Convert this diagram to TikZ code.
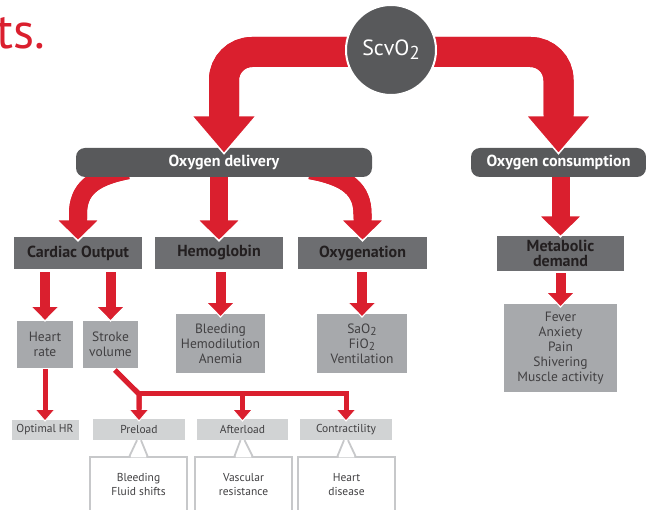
\documentclass[tikz,border=0pt]{standalone}
\usepackage{fontspec}
\setmainfont{PT Sans}
\usepackage{graphicx}
\usetikzlibrary{arrows.meta,calc}
\definecolor{cRed}{HTML}{DA1F2E}
\definecolor{cDark}{HTML}{58595B}
\definecolor{cMid}{HTML}{6D6E71}
\definecolor{cLight}{HTML}{A7A9AC}
\definecolor{cPale}{HTML}{D1D3D4}
\definecolor{cEdge}{HTML}{C7C8CA}
\definecolor{cInk}{HTML}{231F20}
\definecolor{cInkB}{HTML}{414042}
\newcommand{\lowsub}[1]{\raisebox{-0.35ex}{\scalebox{0.85}{#1}}}
\pgfdeclarelayer{l1}
\pgfdeclarelayer{l2}
\pgfdeclarelayer{l3}
\pgfdeclarelayer{l4}
\pgfsetlayers{l1,l2,l3,l4,main}
\tikzset{
  darkbar/.style={fill=cDark, rounded corners=9pt, text=white, font=\fontsize{16}{19}\selectfont\bfseries, inner sep=0pt, minimum height=29pt},
  midbox/.style={fill=cMid, text=cInk, font=\fontsize{16}{14.5}\selectfont\bfseries, inner sep=0pt, align=center, minimum height=32pt},
  lightbox/.style={fill=cLight, text=cInkB, font=\fontsize{13.5}{15}\selectfont, inner sep=0pt, align=center},
  palebox/.style={fill=cPale, text=cInkB, font=\fontsize{11.5}{13}\selectfont, inner sep=0pt, minimum height=21pt},
  callout/.style={draw=cEdge, line width=1.8pt, fill=white, text=cInkB, font=\fontsize{11.5}{13.5}\selectfont, align=center, inner sep=0pt, minimum height=55pt},
  bigarr/.style={draw=cRed, line width=30pt, -{Triangle[width=68pt,length=40pt,fill=cRed,color=white,line width=1.5pt]}, postaction={draw=cRed, line width=30pt, -, shorten >=38pt}},
  midarr/.style={draw=cRed, line width=18pt, -{Triangle[width=47pt,length=23pt,fill=cRed,color=white,line width=1.5pt]}, postaction={draw=cRed, line width=18pt, -, shorten >=21pt}},
  smallarr/.style={draw=cRed, line width=10pt, -{Triangle[width=31pt,length=16pt,fill=cRed,color=white,line width=1.2pt]}, postaction={draw=cRed, line width=10pt, -, shorten >=14pt}},
  thinarr/.style={draw=cRed, line width=5pt, -{Triangle[width=22pt,length=13pt,fill=cRed,color=white,line width=1pt]}, postaction={draw=cRed, line width=5pt, -, shorten >=11pt}},
  pointer/.style={draw=cEdge, line width=1.8pt}
}
\begin{document}
\begin{tikzpicture}[x=1pt,y=-1pt]
\useasboundingbox (0,0) rectangle (646,510);
% title fragment and top circle (front layer)
\node[anchor=base west, text=cRed, font=\fontsize{50}{50}\selectfont, inner sep=0pt] (title) at (-4,49) {ts.};
\node[circle, fill=cDark, draw=white, line width=2pt, minimum size=90pt, inner sep=0pt, text=white, font=\fontsize{22}{22}\selectfont] (scv) at (391,50) {ScvO\lowsub{2}};
% dark bars
\begin{pgfonlayer}{l3}
\node[darkbar, minimum width=296pt] (odel) at (224,162.5) {Oxygen delivery};
\node[darkbar, minimum width=175pt] (ocons) at (558.5,162.5) {Oxygen consumption};
\end{pgfonlayer}
\begin{pgfonlayer}{l1}
% second row
\node[midbox, minimum width=128pt] (co) at (78,253) {Cardiac Output};
\node[midbox, minimum width=128pt] (hb) at (219,253) {Hemoglobin};
\node[midbox, minimum width=129pt] (oxy) at (362.5,253) {Oxygenation};
\node[midbox, minimum width=127pt, minimum height=35pt] (met) at (560.5,253.5) {Metabolic\\demand};
% third row
\node[lightbox, minimum width=56pt, minimum height=47pt] (hr) at (45,344.5) {Heart\\rate};
\node[lightbox, minimum width=55pt, minimum height=47pt] (sv) at (110.5,344.5) {Stroke\\volume};
\node[lightbox, minimum width=89pt, minimum height=59pt] (bl) at (220.5,343.5) {Bleeding\\Hemodilution\\Anemia};
\node[lightbox, minimum width=90pt, minimum height=59pt] (sao) at (362,343.5) {SaO\lowsub{2}\\FiO\lowsub{2}\\Ventilation};
\node[lightbox, minimum width=113pt, minimum height=88pt] (fev) at (560.5,348) {Fever\\Anxiety\\Pain\\Shivering\\Muscle activity};
% bottom row
\node[palebox, minimum width=67pt, minimum height=20pt] (ohr) at (45,430) {Optimal HR};
\node[palebox, minimum width=92pt] (pre) at (139,429.5) {Preload};
\node[palebox, minimum width=91pt] (aft) at (242.5,429.5) {Afterload};
\node[palebox, minimum width=92pt] (con) at (346,429.5) {Contractility};
\node[callout, minimum width=97pt] (cbl) at (138.5,484.5) {Bleeding\\Fluid shifts};
\node[callout, minimum width=97pt] (cva) at (243.5,484.5) {Vascular\\resistance};
\node[callout, minimum width=97pt] (chd) at (346.5,484.5) {Heart\\disease};
\foreach \c/\p in {cbl/pre, cva/aft, chd/con} {
  \fill[white] ([xshift=-8pt,yshift=-1.2pt]\c.north) -- ([xshift=-1.5pt]\p.south) -- ([xshift=1.5pt]\p.south) -- ([xshift=8pt,yshift=-1.2pt]\c.north) -- cycle;
  \draw[pointer] ([xshift=-9pt]\c.north) -- ([xshift=-2pt]\p.south);
  \draw[pointer] ([xshift=9pt]\c.north) -- ([xshift=2pt]\p.south);
}
% arrows row 2 -> row 3
\draw[smallarr] ([yshift=-3pt]co.south -| hr.north) -- ([yshift=-1pt]hr.north);
\draw[smallarr] ([yshift=-3pt]co.south -| sv.north) -- ([yshift=-1pt]sv.north);
\draw[smallarr] ([yshift=-3pt]hb.south -| bl.north) -- ([yshift=-4pt]bl.north);
\draw[smallarr] ([yshift=-3pt]oxy.south -| sao.north) -- ([yshift=-4pt]sao.north);
\draw[smallarr] ([yshift=-2pt]met.south -| fev.north) -- ([yshift=-4pt]fev.north);
% arrows row 3 -> bottom
\draw[thinarr] ([yshift=-1pt]hr.south) -- ([yshift=-2pt]ohr.north);
\coordinate (j1) at (139,394);
\draw[thinarr] ([xshift=4.5pt,yshift=-2pt]sv.south) -- (j1) -- ([yshift=-3pt]pre.north);
\draw[thinarr] (j1) -| ([yshift=-3pt]aft.north);
\draw[thinarr] (j1) -| ([yshift=-3pt]con.north);
\end{pgfonlayer}
% arrows from the dark bars
\begin{pgfonlayer}{l2}
\draw[midarr] ([xshift=52pt,yshift=7pt]odel.south west) .. controls (92,177) and (78,190) .. (78,214) -- ([yshift=-5pt]co.north);
\draw[midarr] (odel.south -| hb.north) -- ([yshift=-5pt]hb.north);
\draw[midarr] ([xshift=-62pt,yshift=7pt]odel.south east) .. controls (348,177) and (362.5,190) .. (362.5,214) -- ([yshift=-5pt]oxy.north);
\draw[midarr] (ocons.south -| met.north) -- ([yshift=-2pt]met.north);
\end{pgfonlayer}
% arrows from the circle
\begin{pgfonlayer}{l4}
\draw[bigarr, rounded corners=28pt] ([yshift=-2pt]scv.center) -| ([yshift=-7pt]odel.north);
\draw[bigarr, rounded corners=28pt] ([yshift=-2pt]scv.center) -| ([yshift=-7pt]ocons.north);
\end{pgfonlayer}
\end{tikzpicture}
\end{document}
